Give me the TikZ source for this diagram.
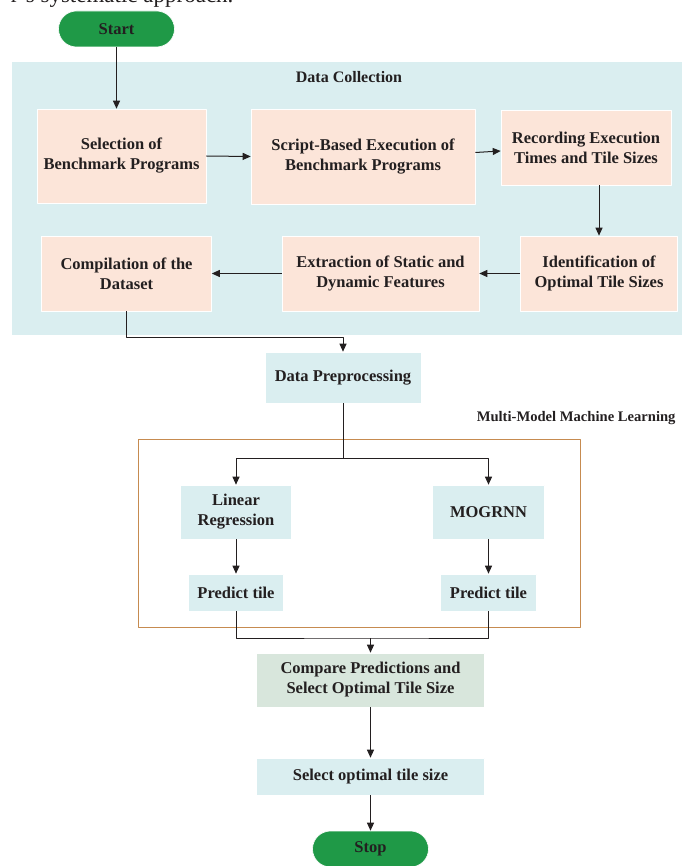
\documentclass[tikz,border=0pt]{standalone}
\usepackage{fontspec}
\setmainfont{Liberation Serif}
\usetikzlibrary{arrows.meta}
\definecolor{panelcyan}{HTML}{DAEEF0}
\definecolor{peach}{HTML}{FCE5D9}
\definecolor{pillgreen}{HTML}{1F9947}
\definecolor{sage}{HTML}{D8E6DC}
\definecolor{framebrown}{HTML}{C68B50}
\definecolor{ink}{HTML}{231F20}
\tikzset{
	box/.style={draw=white, line width=0.6pt, text=ink, align=center, inner sep=0pt,
		font=\fontsize{16.5}{20}\selectfont\bfseries},
	stepbox/.style={box, fill=peach},
	cyanbox/.style={box, fill=panelcyan},
	pill/.style={box, fill=pillgreen, rounded corners=18pt, minimum width=116pt, minimum height=36pt},
	flow/.style={draw=ink, line width=1pt, -{Triangle[length=8pt,width=7pt]}},
	link/.style={draw=ink, line width=1pt},
}
\begin{document}
\begin{tikzpicture}[x=1pt, y=-1pt, line join=round]
		\useasboundingbox (0,0) rectangle (681,866);
		% caption line cut by the page
		\begin{scope}
		\clip (0,0) rectangle (681,866);
		\node[anchor=base east, text=ink, font=\fontsize{23}{26}\selectfont] (caption) at (237,3) {r's systematic approach.};
		\end{scope}
		% data collection panel and ML frame
		\fill[panelcyan] (12,62) rectangle (690,335);
		\node[text=ink, font=\fontsize{16}{18}\selectfont\bfseries] (dctitle) at (349,77) {Data Collection};
		\draw[framebrown, line width=1pt] (138,439) rectangle (580,627);
		\node[anchor=east, text=ink, font=\fontsize{14.6}{18}\selectfont\bfseries] (mltitle) at (679,418.5) {Multi-Model Machine Learning};
		% steps
		\node[pill] (start) at (116.5,29) {Start};
		\node[stepbox, minimum width=169pt, minimum height=94pt] (select) at (121.5,156) {Selection of\\Benchmark Programs};
		\node[stepbox, minimum width=224pt, minimum height=95pt] (script) at (363,156.5) {Script-Based Execution of\\Benchmark Programs};
		\node[stepbox, minimum width=170pt, minimum height=75pt] (record) at (586,147.5) {Recording Execution\\Times and Tile Sizes};
		\node[stepbox, minimum width=157pt, minimum height=75pt] (ident) at (599,273.5) {Identification of\\Optimal Tile Sizes};
		\node[stepbox, minimum width=197pt, minimum height=75pt] (extract) at (380.5,273.5) {Extraction of Static and\\Dynamic Features};
		\node[stepbox, minimum width=170pt, minimum height=75pt] (compile) at (126.5,273.5) {Compilation of the\\Dataset};
		\node[cyanbox, minimum width=156pt, minimum height=51pt] (prep) at (343,377.5) {Data Preprocessing};
		\node[cyanbox, minimum width=111pt, minimum height=54pt] (linreg) at (236,512) {Linear\\Regression};
		\node[cyanbox, minimum width=112pt, minimum height=54pt] (mogrnn) at (488.5,512) {MOGRNN};
		\node[cyanbox, minimum width=95pt, minimum height=37pt] (tileA) at (236,592.5) {Predict tile};
		\node[cyanbox, minimum width=96pt, minimum height=37pt] (tileB) at (488.5,592.5) {Predict tile};
		\node[box, fill=sage, minimum width=228pt, minimum height=54pt] (compare) at (370.5,680) {Compare Predictions and\\Select Optimal Tile Size};
		\node[cyanbox, minimum width=228pt, minimum height=37pt] (optimal) at (370.5,776.5) {Select optimal tile size};
		\node[pill] (stop) at (370.5,849) {Stop};
		% connectors
		\coordinate (dcjoin) at (343,337.5);
		\coordinate (split) at (343,458);
		\coordinate (merge) at (370.5,638);
		\draw[flow] (start.south) -- (start.south |- select.north);
		\draw[flow] (select.east) -- (script.west);
		\draw[flow] ([yshift=4pt]script.east) -- ([yshift=-3.5pt]record.west);
		\draw[flow] (ident.north |- record.south) -- (ident.north);
		\draw[flow] (ident.west) -- (extract.east);
		\draw[flow] (extract.west) -- (compile.east);
		\draw[flow] (compile.south) |- (dcjoin) -- (prep.north);
		\draw[link] (prep.south) -- (split);
		\draw[flow] (split) -| (linreg.north);
		\draw[flow] (split) -| (mogrnn.north);
		\draw[flow] (linreg.south) -- (tileA.north);
		\draw[flow] (mogrnn.south) -- (tileB.north);
		\draw[link] (tileA.south) |- (merge) -| (tileB.south);
		\draw[flow] (merge) -- (compare.north);
		\draw[flow] (compare.south) -- (optimal.north);
		\draw[flow] (optimal.south) -- (stop.north);
		\end{tikzpicture}
\end{document}
